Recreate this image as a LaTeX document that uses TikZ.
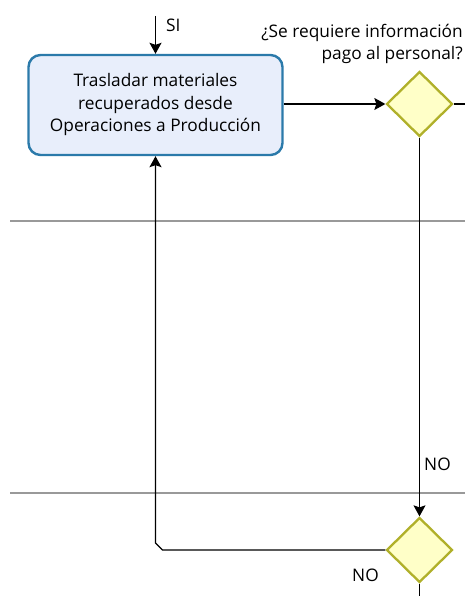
\documentclass[tikz,border=0pt]{standalone}
\usepackage{fontspec}
\setmainfont{Open Sans}
\usetikzlibrary{positioning,shapes.geometric,arrows.meta}

\definecolor{azulborde}{HTML}{2B7AAA}
\definecolor{azulfondo}{HTML}{E8EEFB}
\definecolor{amaborde}{HTML}{B0B02A}
\definecolor{amafondo}{HTML}{FFFFC8}

\begin{document}
\begin{tikzpicture}[x=1pt,y=-1pt,
	tarea/.style={draw=azulborde,fill=azulfondo,line width=2.4pt,rounded corners=12pt,
		minimum width=254pt,minimum height=100pt,align=center,font=\fontsize{17.3}{22.5}\selectfont},
	decision/.style={diamond,draw=amaborde,fill=amafondo,line width=2.3pt,
		minimum width=66pt,minimum height=65pt,inner sep=0pt},
	flecha/.style={line width=1.3pt,-{Stealth[length=11pt,width=12pt,inset=2pt]}},
	linea/.style={line width=1.3pt},
	carril/.style={draw=gray!80,line width=2.6pt},
	etiq/.style={font=\fontsize{17.3}{22}\selectfont,inner sep=0pt}]
	\useasboundingbox (0,0) rectangle (465,596);
	
	% carriles
	\draw[carril](10,221)--(465,221);
	\draw[carril](10,493)--(465,493);
	
	\node[tarea](tras) at (155.5,105){Trasladar materiales\\recuperados desde\\Operaciones a Producción};
	\node[decision](dec1) at (419.5,104){};
	\node[decision](dec2) at (419.5,550){};
	
	\coordinate (arriba) at (155.5,16);
	\coordinate (salida1) at (465,104);
	\coordinate (salida2) at (419.5,596);
	\coordinate (vuelta) at (155.5,550);
	
	\draw[flecha](arriba)--(tras.north);
	\draw[flecha](tras.east|-dec1)--(dec1.west);
	\draw[linea](dec1.east)--(salida1);
	\draw[flecha](dec1.south)--(dec2.north);
	\draw[linea](dec2.south)--(salida2);
	\draw[flecha](dec2.west)--([xshift=7pt]vuelta)--([yshift=7pt]vuelta)--(tras.south);
	
	% textos
	\node[etiq,anchor=west] (si) at (166,25){SI};
	\node[etiq,anchor=west] (no1) at (424,464){NO};
	\node[etiq,anchor=west] (no2) at (352,575){NO};
	\node[etiq,anchor=east,align=right] (preg) at (463,44){¿Se requiere información\\pago al personal?};
\end{tikzpicture}
\end{document}
